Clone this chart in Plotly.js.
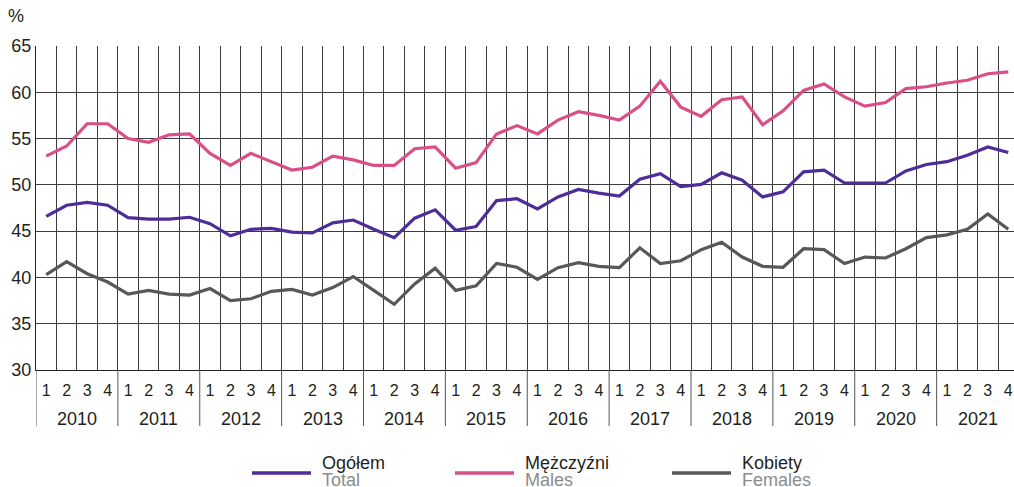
<!DOCTYPE html>
<html>
<head>
<meta charset="utf-8">
<script src="https://cdn.plot.ly/plotly-3.0.1.min.js"></script>
<style>
  body { margin: 0; background: #fff; }
  #chart { width: 1014px; height: 487px; }
</style>
</head>
<body>
<div id="chart"></div>
<script>
// quarterly data 2010-2021
const years = ['2010', '2011', '2012', '2013', '2014', '2015', '2016', '2017', '2018', '2019', '2020', '2021'];
const quarterLabels = ['1', '2', '3', '4'];

const total = [
  46.6, 47.8, 48.1, 47.8, 46.45, 46.3, 46.3, 46.5, 45.8, 44.5, 45.2, 45.3,
  44.9, 44.8, 45.9, 46.2, 45.2, 44.3, 46.4, 47.3, 45.1, 45.5, 48.3, 48.5,
  47.4, 48.7, 49.5, 49.1, 48.8, 50.6, 51.2, 49.8, 50.05, 51.3, 50.5, 48.7,
  49.25, 51.4, 51.6, 50.2, 50.2, 50.2, 51.5, 52.2, 52.5, 53.2, 54.1, 53.5
];
const males = [
  53.1, 54.2, 56.6, 56.6, 55.0, 54.6, 55.4, 55.5, 53.4, 52.1, 53.4, 52.5,
  51.6, 51.9, 53.1, 52.7, 52.1, 52.1, 53.9, 54.1, 51.8, 52.4, 55.5, 56.4,
  55.5, 57.0, 57.9, 57.5, 57.0, 58.5, 61.2, 58.4, 57.4, 59.2, 59.5, 56.5,
  58.0, 60.2, 60.9, 59.5, 58.5, 58.9, 60.4, 60.6, 61.0, 61.3, 62.0, 62.2
];
const females = [
  40.3, 41.7, 40.4, 39.5, 38.2, 38.6, 38.2, 38.1, 38.8, 37.5, 37.7, 38.5,
  38.7, 38.1, 38.9, 40.1, 38.6, 37.1, 39.3, 41.0, 38.6, 39.1, 41.5, 41.1,
  39.8, 41.05, 41.6, 41.2, 41.05, 43.2, 41.5, 41.8, 43.0, 43.8, 42.2, 41.2,
  41.1, 43.1, 43.0, 41.5, 42.2, 42.1, 43.1, 44.3, 44.6, 45.2, 46.85, 45.2
];

const seriesNames = ['Ogółem', 'Mężczyźni', 'Kobiety'];
const seriesSub = ['Total', 'Males', 'Females'];
const colors = ['#4e2d98', '#da4f86', '#585858'];

const idx = total.map((v, i) => i);
const qText = idx.map(i => quarterLabels[i % 4]);
const bounds = [];
for (let i = 0; i <= idx.length; i++) bounds.push(i - 0.5);

const traces = [total, males, females].map((y, k) => ({
  x: idx,
  y: y,
  mode: 'lines',
  type: 'scatter',
  name: seriesNames[k],
  line: { color: colors[k], width: 3.2 },
  hoverinfo: 'skip'
}));

const gridCol = '#3c3c3c';
const textCol = '#231f20';

// plot area in pixels, used to place the hand-made legend
const W = 1014, H = 487, mL = 36, mT = 46, mB = 117;
const pw = W - mL, ph = H - mT - mB;
const px = v => (v - mL) / pw;
const py = v => (H - mB - v) / ph;

const shapes = [];
const annotations = [];

// year separators below the axis + year labels
years.forEach((yr, k) => {
  shapes.push({
    type: 'line', xref: 'x', yref: 'paper',
    x0: 4 * k - 0.5, x1: 4 * k - 0.5, y0: 0, y1: py(426),
    line: { color: '#555', width: 1 }
  });
  annotations.push({
    x: 4 * k + 1.5, y: py(419), xref: 'x', yref: 'paper',
    text: yr, showarrow: false, yanchor: 'middle',
    font: { size: 18, color: textCol }
  });
});

annotations.push({
  x: px(6), y: py(16), xref: 'paper', yref: 'paper',
  text: '%', showarrow: false, xanchor: 'left', yanchor: 'middle',
  font: { size: 18, color: textCol }
});

// legend: line sample, Polish name, English name underneath
const legX = [252, 455, 672];
legX.forEach((lx, k) => {
  shapes.push({
    type: 'line', xref: 'paper', yref: 'paper',
    x0: px(lx), x1: px(lx + 59), y0: py(473), y1: py(473),
    line: { color: colors[k], width: 3.5 }
  });
  annotations.push({
    x: px(lx + 68), y: py(463), xref: 'paper', yref: 'paper',
    xanchor: 'left', yanchor: 'middle', showarrow: false,
    text: seriesNames[k], font: { size: 18, color: textCol }
  });
  annotations.push({
    x: px(lx + 68), y: py(480), xref: 'paper', yref: 'paper',
    xanchor: 'left', yanchor: 'middle', showarrow: false,
    text: seriesSub[k], font: { size: 18, color: '#8c8c8c' }
  });
});

const layout = {
  width: W,
  height: H,
  margin: { l: mL, r: 0, t: mT, b: mB },
  paper_bgcolor: '#fff',
  plot_bgcolor: '#fff',
  font: { family: 'Liberation Sans, Arial, sans-serif', color: textCol },
  showlegend: false,
  xaxis: {
    range: [-0.5, 47.28],
    tickmode: 'array',
    tickvals: idx,
    ticktext: qText,
    ticks: '',
    ticklabelstandoff: 6,
    showgrid: false,
    zeroline: false,
    showline: true,
    linecolor: '#222',
    linewidth: 1,
    tickfont: { size: 16, color: textCol },
    minor: {
      tickmode: 'array',
      tickvals: bounds,
      showgrid: true,
      gridcolor: gridCol,
      gridwidth: 1,
      ticks: ''
    }
  },
  yaxis: {
    range: [30, 65],
    tickmode: 'linear',
    tick0: 30,
    dtick: 5,
    showgrid: true,
    gridcolor: gridCol,
    gridwidth: 1,
    zeroline: false,
    showline: true,
    linecolor: '#222',
    ticks: '',
    tickfont: { size: 18, color: textCol }
  },
  shapes: shapes,
  annotations: annotations
};

Plotly.newPlot('chart', traces, layout, { displayModeBar: false, staticPlot: true });
</script>
</body>
</html>
